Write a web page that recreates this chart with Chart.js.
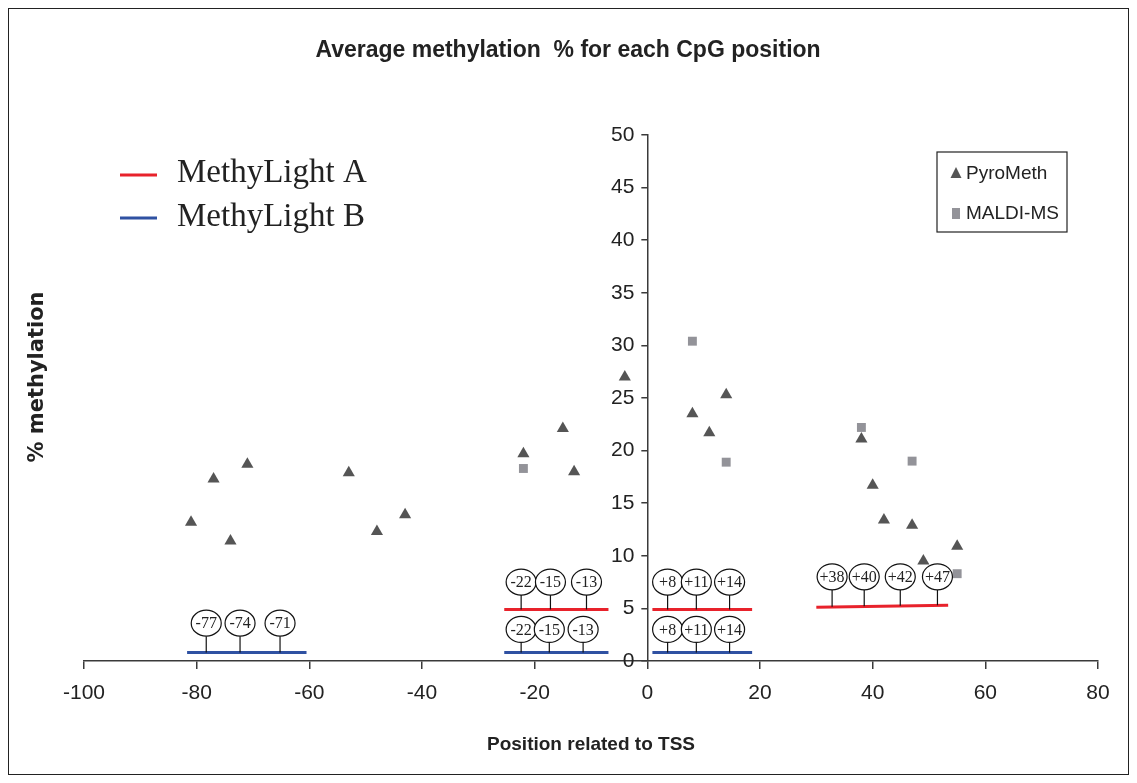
<!DOCTYPE html>
<html>
<head>
<meta charset="utf-8">
<script src="https://cdn.jsdelivr.net/npm/chart.js@4.4.0/dist/chart.umd.min.js"></script>
<style>
  html, body { margin: 0; padding: 0; background: #fff; }
  #wrap { width: 1137px; height: 783px; }
</style>
</head>
<body>
<div id="wrap"><canvas id="chart" width="1137" height="783"></canvas></div>
<script>
// Data
const xTicks = [-100, -80, -60, -40, -20, 0, 20, 40, 60, 80];
const yTicks = [0, 5, 10, 15, 20, 25, 30, 35, 40, 45, 50];

const pyroX = [-81, -77, -74, -71, -53, -48, -43, -22, -15, -13, -4, 8, 11, 14, 38, 40, 42, 47, 49, 55];
const pyroY = [13.2, 17.3, 11.4, 18.7, 17.9, 12.3, 13.9, 19.7, 22.1, 18.0, 27.0, 23.5, 21.7, 25.3, 21.1, 16.7, 13.4, 12.9, 9.5, 10.9];

const maldiX = [-22, 8, 14, 38, 47, 55];
const maldiY = [18.3, 30.4, 18.9, 22.2, 19.0, 8.3];

// MethyLight amplicons: [xStart, xEnd, yStart, yEnd]
const methyLightA = [[-25.4, -6.9, 4.9, 4.9], [0.9, 18.6, 4.9, 4.9], [30.0, 53.4, 5.1, 5.3]];
const methyLightB = [[-81.7, -60.5, 0.8, 0.8], [-25.4, -6.9, 0.8, 0.8], [0.9, 18.6, 0.8, 0.8]];

// CpG labels hanging on the amplicon lines
const cpgLabelsA = ['-22', '-15', '-13', '+8', '+11', '+14', '+38', '+40', '+42', '+47'];
const cpgStemA = [-22.4, -17.2, -10.8, 3.6, 8.7, 14.6, 32.8, 38.5, 44.9, 51.5];
const cpgBaseA = [4.9, 4.9, 4.9, 4.9, 4.9, 4.9, 5.15, 5.2, 5.25, 5.3];
const cpgTopA = [7.5, 7.5, 7.5, 7.5, 7.5, 7.5, 8.0, 8.0, 8.0, 8.0];

const cpgLabelsB = ['-77', '-74', '-71', '-22', '-15', '-13', '+8', '+11', '+14'];
const cpgStemB = [-78.3, -72.3, -65.2, -22.4, -17.4, -11.4, 3.6, 8.7, 14.6];
const cpgBaseB = [0.8, 0.8, 0.8, 0.8, 0.8, 0.8, 0.8, 0.8, 0.8];
const cpgTopB = [3.6, 3.6, 3.6, 3.0, 3.0, 3.0, 3.0, 3.0, 3.0];

// Styles
const SANS = '"Liberation Sans", Arial, sans-serif';
const SERIF = '"Liberation Serif", "Times New Roman", serif';
const AXIS_COLOR = '#3a3a3a';
const RED = '#e8222b';
const BLUE = '#2f51a2';
const TRI_COLOR = '#555555';
const SQ_COLOR = '#939399';

function segmentDatasets(segments, color) {
    return segments.map(s => ({
        type: 'scatter',
        data: [{ x: s[0], y: s[2] }, { x: s[1], y: s[3] }],
        showLine: true,
        borderColor: color,
        borderWidth: 3,
        pointRadius: 0,
        order: 2
    }));
}

function drawBubbles(ctx, xs, ys, labels, stems, bases, tops) {
    const rx = 15, ry = 13;
    ctx.save();
    ctx.strokeStyle = '#111';
    ctx.lineWidth = 1.2;
    ctx.font = '16px ' + SERIF;
    ctx.textAlign = 'center';
    ctx.textBaseline = 'middle';
    labels.forEach((label, i) => {
        const px = xs.getPixelForValue(stems[i]);
        const pBase = ys.getPixelForValue(bases[i]);
        const pTop = ys.getPixelForValue(tops[i]);
        ctx.beginPath();
        ctx.moveTo(px, pBase);
        ctx.lineTo(px, pTop + ry);
        ctx.stroke();
        ctx.beginPath();
        ctx.ellipse(px, pTop, rx, ry, 0, 0, Math.PI * 2);
        ctx.fillStyle = '#fff';
        ctx.fill();
        ctx.stroke();
        ctx.fillStyle = '#222';
        ctx.fillText(label, px, pTop + 1);
    });
    ctx.restore();
}

const decorations = {
    id: 'decorations',
    afterLayout(chart) {
        // put the y axis on x = 0, as in the original figure
        const { x, y } = chart.scales;
        const x0 = x.getPixelForValue(0);
        y.left = x0 - 80;
        y.right = x0;
    },
    beforeDraw(chart) {
        const ctx = chart.ctx;
        ctx.save();
        ctx.fillStyle = '#fff';
        ctx.fillRect(0, 0, chart.width, chart.height);
        ctx.strokeStyle = '#222';
        ctx.lineWidth = 1;
        ctx.strokeRect(8.5, 8.5, 1120, 766);
        ctx.restore();
    },
    afterDatasetsDraw(chart) {
        const { ctx, scales: { x, y } } = chart;
        drawBubbles(ctx, x, y, cpgLabelsA, cpgStemA, cpgBaseA, cpgTopA);
        drawBubbles(ctx, x, y, cpgLabelsB, cpgStemB, cpgBaseB, cpgTopB);
    },
    afterDraw(chart) {
        const { ctx, chartArea } = chart;
        ctx.save();
        ctx.fillStyle = '#222';

        // title
        ctx.font = 'bold 23px ' + SANS;
        ctx.textAlign = 'center';
        ctx.textBaseline = 'middle';
        ctx.fillText('Average methylation  % for each CpG position', 568, 51);

        // x axis title
        ctx.font = 'bold 19px ' + SANS;
        ctx.fillText('Position related to TSS', (chartArea.left + chartArea.right) / 2, 745);

        // y axis title
        ctx.save();
        ctx.translate(38, 377);
        ctx.rotate(-Math.PI / 2);
        ctx.font = 'bold 21px "DejaVu Sans", Verdana, sans-serif';
        ctx.fillText('% methylation', 0, 0);
        ctx.restore();

        // MethyLight legend
        ctx.lineWidth = 3;
        ctx.strokeStyle = RED;
        ctx.beginPath(); ctx.moveTo(120, 175); ctx.lineTo(157, 175); ctx.stroke();
        ctx.strokeStyle = BLUE;
        ctx.beginPath(); ctx.moveTo(120, 218); ctx.lineTo(157, 218); ctx.stroke();
        ctx.font = '33px ' + SERIF;
        ctx.textAlign = 'left';
        ctx.textBaseline = 'alphabetic';
        ctx.fillText('MethyLight A', 177, 182);
        ctx.fillText('MethyLight B', 177, 226);

        // series legend box
        ctx.strokeStyle = '#222';
        ctx.lineWidth = 1.2;
        ctx.strokeRect(937, 152, 130, 80);
        ctx.fillStyle = TRI_COLOR;
        ctx.beginPath();
        ctx.moveTo(956, 167); ctx.lineTo(961.5, 178); ctx.lineTo(950.5, 178);
        ctx.closePath(); ctx.fill();
        ctx.fillStyle = SQ_COLOR;
        ctx.fillRect(952, 208, 8, 11);
        ctx.fillStyle = '#222';
        ctx.font = '19px ' + SANS;
        ctx.textBaseline = 'middle';
        ctx.fillText('PyroMeth', 966, 174);
        ctx.fillText('MALDI-MS', 966, 214);
        ctx.restore();
    }
};

const ctx = document.getElementById('chart').getContext('2d');

new Chart(ctx, {
    type: 'scatter',
    data: {
        datasets: [
            {
                label: 'PyroMeth',
                data: pyroX.map((v, i) => ({ x: v, y: pyroY[i] })),
                pointStyle: 'triangle',
                pointRadius: 7,
                backgroundColor: TRI_COLOR,
                borderColor: TRI_COLOR,
                borderWidth: 0,
                order: 0
            },
            {
                label: 'MALDI-MS',
                data: maldiX.map((v, i) => ({ x: v, y: maldiY[i] })),
                pointStyle: 'rect',
                pointRadius: 6.3,
                backgroundColor: SQ_COLOR,
                borderColor: SQ_COLOR,
                borderWidth: 0,
                order: 1
            },
            ...segmentDatasets(methyLightA, RED),
            ...segmentDatasets(methyLightB, BLUE)
        ]
    },
    options: {
        responsive: false,
        animation: false,
        layout: { padding: { left: 84, right: 39, top: 135, bottom: 0 } },
        plugins: {
            legend: { display: false },
            title: { display: false },
            tooltip: { enabled: false }
        },
        scales: {
            x: {
                type: 'linear',
                min: -100,
                max: 80,
                afterBuildTicks(scale) { scale.ticks = xTicks.map(v => ({ value: v })); },
                afterFit(scale) { scale.height = 122; scale.paddingLeft = 0; scale.paddingRight = 0; },
                ticks: { color: '#222', font: { family: SANS, size: 21 }, padding: 12 },
                grid: { drawOnChartArea: false, tickLength: 8, color: AXIS_COLOR, lineWidth: 1.5 },
                border: { color: AXIS_COLOR, width: 1.5 }
            },
            y: {
                type: 'linear',
                position: 'left',
                min: 0,
                max: 50,
                afterBuildTicks(scale) { scale.ticks = yTicks.map(v => ({ value: v })); },
                afterFit(scale) { scale.width = 0; scale.paddingTop = 0; scale.paddingBottom = 0; },
                ticks: { color: '#222', font: { family: SANS, size: 21 }, padding: 7 },
                grid: { drawOnChartArea: false, tickLength: 6, color: AXIS_COLOR, lineWidth: 1.5 },
                border: { color: AXIS_COLOR, width: 1.5 }
            }
        }
    },
    plugins: [decorations]
});
</script>
</body>
</html>
